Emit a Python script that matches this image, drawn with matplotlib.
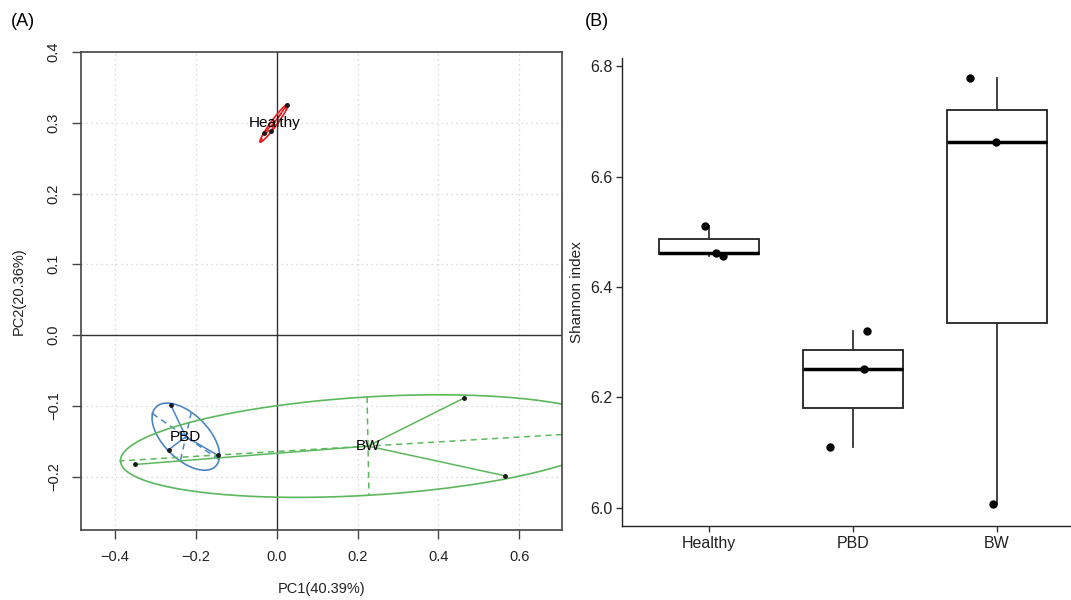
import numpy as np
import matplotlib
matplotlib.use("Agg")
import matplotlib.pyplot as plt

plt.rcParams['font.family'] = ['Liberation Sans', 'DejaVu Sans']

# ---- data: PCoA scores (A) ----
groups = ["Healthy", "PBD", "BW"]
pc1 = {
    "Healthy": [0.025, -0.031, -0.013],
    "PBD": [-0.262, -0.267, -0.146],
    "BW": [0.464, 0.565, -0.351],
}
pc2 = {
    "Healthy": [0.325, 0.286, 0.288],
    "PBD": [-0.099, -0.162, -0.170],
    "BW": [-0.089, -0.199, -0.183],
}
grp_colors = {"Healthy": "#E41A1C", "PBD": "#4A86C5", "BW": "#5CB85C"}
ell_scale = 1.22

# ---- data: Shannon index (B) ----
shannon = {
    "Healthy": [6.511, 6.462, 6.457],
    "PBD": [6.321, 6.252, 6.111],
    "BW": [6.778, 6.662, 6.008],
}
jitter = {
    "Healthy": [-0.03, 0.05, 0.10],
    "PBD": [0.095, 0.075, -0.16],
    "BW": [-0.19, -0.01, -0.03],
}

fig = plt.figure(figsize=(10.71, 6.0), dpi=100)

# ================= panel A =================
axA = fig.add_axes([81 / 1071, 70 / 600, 480.7 / 1071, 478 / 600])
axA.set_xlim(-0.4844, 0.7054)
axA.set_ylim(-0.2756, 0.4)
axA.set_xticks([-0.4, -0.2, 0.0, 0.2, 0.4, 0.6])
axA.set_yticks([-0.2, -0.1, 0.0, 0.1, 0.2, 0.3, 0.4])
axA.set_xticklabels(["\u22120.4", "\u22120.2", "0.0", "0.2", "0.4", "0.6"])
axA.set_yticklabels(["\u22120.2", "\u22120.1", "0.0", "0.1", "0.2", "0.3", "0.4"])
axA.grid(True, linestyle=(0, (1, 3)), color="#cfcfcf", lw=0.9)
axA.set_axisbelow(True)
axA.axhline(0, color="#333333", lw=1.0)
axA.axvline(0, color="#333333", lw=1.0)

t = np.linspace(0, 2 * np.pi, 300)
for g in groups:
    x = np.array(pc1[g])
    y = np.array(pc2[g])
    c = grp_colors[g]
    cx, cy = x.mean(), y.mean()
    # spider
    for xi, yi in zip(x, y):
        axA.plot([cx, xi], [cy, yi], color=c, lw=1.1)
    # ellipse from covariance
    cov = np.cov(np.vstack([x, y]))
    vals, vecs = np.linalg.eigh(cov)
    a = ell_scale * np.sqrt(vals[1])
    b = ell_scale * np.sqrt(max(vals[0], 0))
    v1 = vecs[:, 1]
    v2 = vecs[:, 0]
    ex = cx + a * np.cos(t) * v1[0] + b * np.sin(t) * v2[0]
    ey = cy + a * np.cos(t) * v1[1] + b * np.sin(t) * v2[1]
    axA.plot(ex, ey, color=c, lw=1.2)
    axA.plot([cx - a * v1[0], cx + a * v1[0]], [cy - a * v1[1], cy + a * v1[1]],
             color=c, lw=1.1, ls=(0, (4, 3)))
    axA.plot([cx - b * v2[0], cx + b * v2[0]], [cy - b * v2[1], cy + b * v2[1]],
             color=c, lw=1.1, ls=(0, (4, 3)))
    axA.plot(x, y, "o", color="#1a1a1a", ms=2.5, zorder=5)
    axA.text(cx, cy, g, ha="center", va="center", fontsize=11, color="black", zorder=6)

for s in axA.spines.values():
    s.set_color("#444444")
    s.set_linewidth(1.2)
axA.tick_params(length=6.5, width=1.0, color="#444444", labelsize=10.5, pad=8,
                labelcolor="#222222")
axA.tick_params(axis="y", labelrotation=90)
for lab in axA.get_yticklabels():
    lab.set_va("center")
axA.set_xlabel("PC1(40.39%)", fontsize=10.5, labelpad=13, color="#222222")
axA.set_ylabel("PC2(20.36%)", fontsize=10.5, labelpad=15, color="#222222")

# ================= panel B =================
axB = fig.add_axes([622 / 1071, 74 / 600, 449 / 1071, 468 / 600])
pos = np.arange(1, len(groups) + 1)
data = [shannon[g] for g in groups]
axB.boxplot(data, positions=pos, widths=0.7, showfliers=False, showcaps=False,
            whis=1.5, patch_artist=True,
            boxprops=dict(facecolor="white", edgecolor="#222222", lw=1.3),
            whiskerprops=dict(color="#333333", lw=1.3),
            medianprops=dict(color="black", lw=2.5))
for i, g in enumerate(groups):
    axB.plot(pos[i] + np.array(jitter[g]), shannon[g], "o", color="black", ms=5, zorder=5)

axB.set_xlim(0.396, 3.514)
axB.set_ylim(5.9674, 6.8145)
axB.set_yticks([6.0, 6.2, 6.4, 6.6, 6.8])
axB.set_yticklabels(["6.0", "6.2", "6.4", "6.6", "6.8"])
axB.set_xticks(pos)
axB.set_xticklabels(groups)
axB.spines["top"].set_visible(False)
axB.spines["right"].set_visible(False)
for s in ("left", "bottom"):
    axB.spines[s].set_color("#222222")
    axB.spines[s].set_linewidth(1.0)
axB.tick_params(length=4, width=1.0, color="#333333", labelsize=11.5, pad=3,
                labelcolor="#222222")
axB.set_ylabel("Shannon index", fontsize=11, labelpad=4, color="#222222")

fig.text(23 / 1071, 1 - 22 / 600, "(A)", ha="center", va="center", fontsize=13)
fig.text(597 / 1071, 1 - 22 / 600, "(B)", ha="center", va="center", fontsize=13)

fig.savefig("out.png", dpi=100)
